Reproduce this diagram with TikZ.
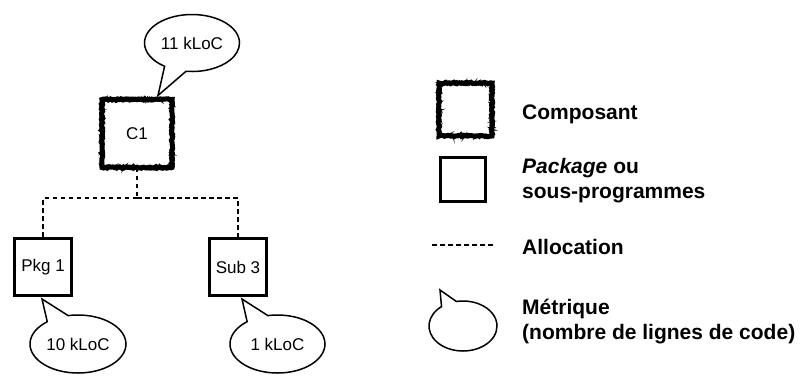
\documentclass[tikz,border=0pt]{standalone}
\usepackage{fontspec}
\setmainfont{Liberation Sans}
\usetikzlibrary{shapes.callouts,decorations.pathmorphing,calc}
\begin{document}
\begin{tikzpicture}[x=1pt,y=-1pt,
  lbl/.style={font=\fontsize{17}{20}\selectfont},
  leg/.style={font=\fontsize{21}{25}\selectfont\bfseries, anchor=base west, inner sep=0pt},
  roughbox/.style={draw=none, fill=white, outer sep=0pt, inner sep=0pt,
    postaction={draw, line width=5pt, decorate, decoration={random steps, segment length=1.5pt, amplitude=0.7pt}},
    postaction={draw, line width=1.2pt, decorate, decoration={random steps, segment length=1pt, amplitude=2.6pt}}},
  pkgbox/.style={draw, line width=3pt, fill=white, outer sep=0pt, inner sep=0pt},
  alloc/.style={line width=1.8pt, dash pattern=on 4.5pt off 3.5pt},
  metric/.style={ellipse callout, draw, line width=1.5pt, fill=white, inner sep=0pt,
    callout pointer arc=28},
]
\pgfmathsetseed{42}
\useasboundingbox (0,0) rectangle (803,376);

% diagram
\node[roughbox, lbl, minimum width=70pt, minimum height=68pt] (c1) at (137,133.5) {C1};
\node[pkgbox, lbl, minimum width=57pt, minimum height=57pt] (pkg) at (43,267) {Pkg 1};
\node[pkgbox, lbl, minimum width=57pt, minimum height=57pt] (sub) at (238,267) {Sub 3};

\coordinate (j) at (137,198);
\draw[alloc] (c1.south) -- (j);
\draw[alloc] (j) -| (pkg.north);
\draw[alloc] (j) -| (sub.north);

\node[metric, lbl, minimum width=95pt, minimum height=57pt,
  callout absolute pointer={($(c1.north)+(21,-4)$)}] (m1) at (192,43) {11 kLoC};
\node[metric, lbl, minimum width=96pt, minimum height=58pt,
  callout absolute pointer={($(pkg.south)+(-1,3.5)$)}] (m2) at (78,344) {10 kLoC};
\node[metric, lbl, minimum width=95pt, minimum height=58pt,
  callout absolute pointer={($(sub.south)+(4,3.5)$)}] (m3) at (277.5,344) {1 kLoC};

% legend
\node[roughbox, minimum width=53pt, minimum height=53pt] (lc) at (465.5,109.5) {};
\node[leg] (tc) at (522,119) {Composant};

\node[pkgbox, minimum width=45pt, minimum height=44pt] (lp) at (463,179.5) {};
\node[leg] (tp1) at (522,173) {\textit{Package} ou};
\node[leg] (tp2) at (522,198) {sous-programmes};

\coordinate (la) at (432,245);
\coordinate (lb) at (495,245);
\draw[alloc] (la) -- (lb);
\node[leg] (ta) at (522,254) {Allocation};

\coordinate (lt) at (440,290);
\node[metric, minimum width=68pt, minimum height=50pt,
  callout absolute pointer={(lt)}] (lm) at (463,326) {};
\node[leg] (tm1) at (522,314) {Métrique};
\node[leg] (tm2) at (522,339) {(nombre de lignes de code)};
\end{tikzpicture}
\end{document}
